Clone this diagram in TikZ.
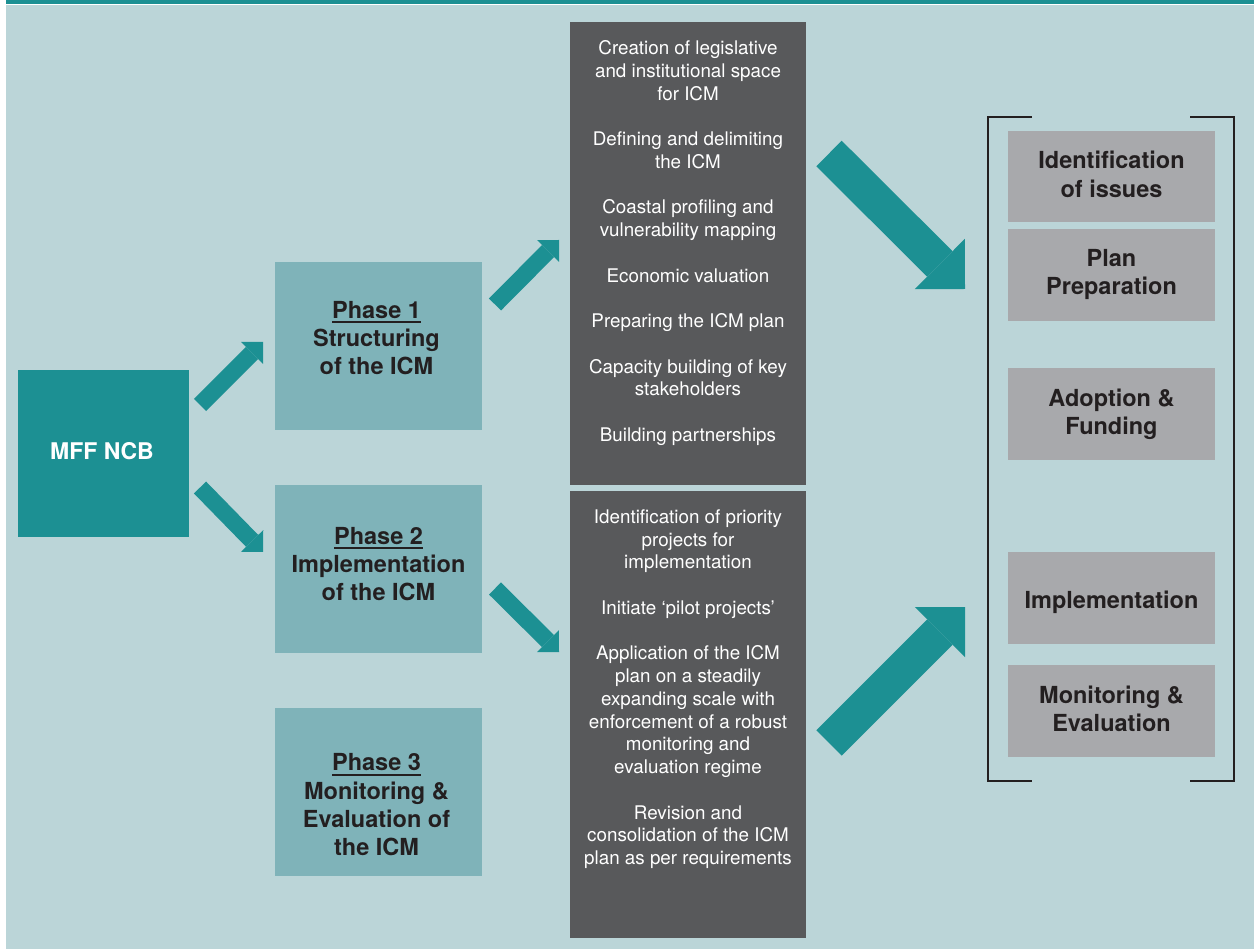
\documentclass[tikz,border=0pt]{standalone}
\usepackage{fontspec}
\setmainfont{TeX Gyre Heros}
\usetikzlibrary{arrows.meta}
\newcommand{\phaseul}[1]{\setbox0\hbox{#1}\rlap{\rule[-4.8pt]{\wd0}{2.2pt}}\box0}
\definecolor{bgc}{HTML}{BBD5D8}
\definecolor{teal1}{HTML}{1C9093}
\definecolor{phasec}{HTML}{7FB3B9}
\definecolor{darkc}{HTML}{58595B}
\definecolor{grayc}{HTML}{A8A9AC}
\definecolor{inkc}{HTML}{231F20}
\begin{document}
\begin{tikzpicture}[x=1pt,y=-1pt,
  blk/.style={rectangle, inner sep=0pt, outer sep=0pt, draw=none},
  tealbox/.style={blk, fill=teal1},
  phasebox/.style={blk, fill=phasec, minimum width=207pt, minimum height=168pt},
  darkbox/.style={blk, fill=darkc, minimum width=236pt},
  graybox/.style={blk, fill=grayc, minimum width=207pt, minimum height=92pt},
  darktext/.style={inner sep=0pt, align=center, text=white, font=\fontsize{18.8}{22.75}\selectfont},
  boldtext/.style={inner sep=0pt, align=center, text=inkc, font=\bfseries\fontsize{23.5}{28.3}\selectfont},
  smallarrow/.style={draw=teal1, line width=17pt, -{Triangle[length=15.5pt, width=31pt, line width=0pt]}},
  bigarrow/.style={draw=teal1, line width=36pt, -{Triangle[length=35.5pt, width=71pt, line width=0pt]}},
  bracketline/.style={draw=inkc, line width=2.5pt}
]
\useasboundingbox (0,0) rectangle (1254,949);
\fill[white] (0,0) rectangle (1254,949);
\fill[teal1] (6,0) rectangle (1254,4);
\fill[bgc] (6,5) rectangle (1254,949);

% left box
\node[tealbox, minimum width=171pt, minimum height=167pt] (mff) at (103.5,453.5) {};
\node[inner sep=0pt, text=white, font=\bfseries\fontsize{23}{26}\selectfont] (mfft) at (102,451) {MFF NCB};

% phase boxes
\node[phasebox] (p1) at (378.5,346) {};
\node[phasebox] (p2) at (378.5,569) {};
\node[phasebox] (p3) at (378.5,792) {};
\node[boldtext] (p1t) at (376.5,338) {\phaseul{Phase 1}\\Structuring\\of the ICM};
\node[boldtext] (p2t) at (378.5,564) {\phaseul{Phase 2}\\Implementation\\of the ICM};
\node[boldtext] (p3t) at (376.5,805) {\phaseul{Phase 3}\\Monitoring \&\\Evaluation of\\the ICM};

% dark boxes
\node[darkbox, minimum height=463pt] (d1) at (688,253.5) {};
\node[darkbox, minimum height=447pt] (d2) at (688,714.5) {};
\node[darktext, anchor=north] (d1t) at (688,40.5) {Creation of legislative\\and institutional space\\for ICM\\[22.75pt]
Defining and delimiting\\the ICM\\[22.75pt]
Coastal profiling and\\vulnerability mapping\\[22.75pt]
Economic valuation\\[22.75pt]
Preparing the ICM plan\\[22.75pt]
Capacity building of key\\stakeholders\\[22.75pt]
Building partnerships};
\node[darktext, anchor=north] (d2t) at (688,509.5) {Identification of priority\\projects for\\implementation\\[22.75pt]
Initiate ‘pilot projects’\\[22.75pt]
Application of the ICM\\plan on a steadily\\expanding scale with\\enforcement of a robust\\monitoring and\\evaluation regime\\[22.75pt]
Revision and\\consolidation of the ICM\\plan as per requirements};

% right gray boxes
\node[graybox, minimum height=91pt] (r1) at (1111.5,176.5) {};
\node[graybox] (r2) at (1111.5,275) {};
\node[graybox] (r3) at (1111.5,414) {};
\node[graybox] (r4) at (1111.5,598) {};
\node[graybox] (r5) at (1111.5,711) {};
\node[boldtext] (r1t) at (1111.5,174.5) {Identification\\of issues};
\node[boldtext] (r2t) at (1111.5,274.5) {Plan\\Preparation};
\node[boldtext] (r3t) at (1111.5,414.5) {Adoption \&\\Funding};
\node[boldtext] (r4t) at (1111.5,602) {Implementation};
\node[boldtext] (r5t) at (1111.5,709) {Monitoring \&\\Evaluation};

% bracket
\draw[bracketline] (1032,117) -- (988,117) -- (988,781) -- (1032,781);
\draw[bracketline] (1190,117) -- (1234,117) -- (1234,781) -- (1190,781);

% arrows
\coordinate (a1s) at (200,405);   \coordinate (a1e) at (263,342);
\coordinate (a2s) at (495,304.5); \coordinate (a2e) at (559,240);
\coordinate (a3s) at (200,487.5); \coordinate (a3e) at (263,552);
\coordinate (a4s) at (495,588.5); \coordinate (a4e) at (559,652);
\coordinate (a5s) at (829,153.5); \coordinate (a5e) at (965,289);
\coordinate (a6s) at (829,743);   \coordinate (a6e) at (965,607);
\draw[smallarrow] (a1s) -- (a1e);
\draw[smallarrow] (a2s) -- (a2e);
\draw[smallarrow] (a3s) -- (a3e);
\draw[smallarrow] (a4s) -- (a4e);
\draw[bigarrow] (a5s) -- (a5e);
\draw[bigarrow] (a6s) -- (a6e);
\end{tikzpicture}
\end{document}
